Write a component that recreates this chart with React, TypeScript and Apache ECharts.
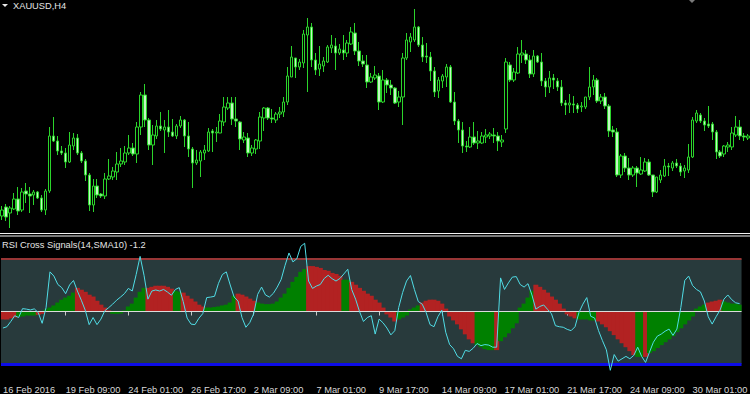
import { useEffect, useRef } from "react";
import * as echarts from "echarts";

const symbolTitle = "XAUUSD,H4";
const indicatorTitle = "RSI Cross Signals(14,SMA10) -1.2";

const tickLabels = [
  "16 Feb 2016", "19 Feb 09:00", "24 Feb 01:00", "26 Feb 17:00", "2 Mar 09:00", "7 Mar 01:00",
  "9 Mar 17:00", "14 Mar 09:00", "17 Mar 01:00", "21 Mar 17:00", "24 Mar 09:00", "30 Mar 01:00",
];
const barsPerTick = 16;

// [open, close, low, high]
const candles: number[][] = [
  [1188, 1191, 1186, 1193], [1192.5, 1187.5, 1185.5, 1194], [1189.5, 1192, 1182, 1193], [1191.5, 1196.5, 1191, 1199.5],
  [1196.5, 1190.5, 1188.5, 1202.5], [1191, 1200, 1190, 1202], [1200.5, 1199, 1194.5, 1204.5], [1199, 1198, 1189.5, 1202.5],
  [1198.5, 1200, 1193.5, 1201], [1200, 1197, 1196.5, 1200.5], [1197, 1191, 1190, 1198.5], [1191, 1200.5, 1188.5, 1201.5],
  [1200.5, 1228, 1199.5, 1232.5], [1228, 1225.5, 1225, 1237.5], [1225.5, 1220.5, 1218.5, 1228], [1220.5, 1219.5, 1218.5, 1223],
  [1219.5, 1215, 1212, 1222], [1215, 1223.5, 1214.5, 1230], [1223, 1227, 1221, 1229.5], [1227, 1219.5, 1218.5, 1229],
  [1219.5, 1215.5, 1214.5, 1220.5], [1215.5, 1208.5, 1205.5, 1216.5], [1208.5, 1193.5, 1190.5, 1209.5], [1193.5, 1203, 1190, 1206.5],
  [1203, 1198.5, 1197, 1206.5], [1199, 1198, 1197, 1199.5], [1198, 1206.5, 1196.5, 1209.5], [1206.5, 1208, 1206, 1216.5],
  [1207.5, 1210.5, 1206, 1212.5], [1210, 1214, 1206, 1220], [1214, 1215.5, 1212.5, 1222], [1215, 1219.5, 1213.5, 1223],
  [1219.5, 1222, 1218.5, 1228.5], [1222, 1219, 1218, 1224.5], [1219, 1232.5, 1214.5, 1235], [1232.5, 1248.5, 1228.5, 1250],
  [1248.5, 1236, 1232.5, 1254], [1236, 1223.5, 1221, 1237], [1223.5, 1228.5, 1213.5, 1233.5], [1228, 1233, 1226.5, 1236],
  [1233, 1231.5, 1230.5, 1240], [1231, 1232.5, 1219.5, 1236], [1232.5, 1230, 1227.5, 1241], [1230, 1228, 1227.5, 1236.5],
  [1228, 1233, 1226.5, 1234], [1233, 1236, 1232, 1238], [1236, 1228, 1222.5, 1236.5], [1228, 1221.5, 1217.5, 1235],
  [1221.5, 1214.5, 1202, 1222.5], [1214.5, 1216, 1213.5, 1221], [1215.5, 1220, 1207.5, 1221], [1219.5, 1221, 1216, 1223.5],
  [1220.5, 1230, 1220, 1232], [1230.5, 1229.5, 1220, 1231.5], [1229.5, 1230, 1225, 1232.5], [1229.5, 1235.5, 1229.5, 1239],
  [1235, 1242.5, 1233, 1247.5], [1242, 1244.5, 1241, 1247.5], [1244.5, 1236.5, 1233.5, 1247.5], [1236.5, 1235.5, 1232.5, 1247.5],
  [1235, 1226.5, 1221, 1235.5], [1226, 1227.5, 1224.5, 1230], [1227, 1219.5, 1217.5, 1229.5], [1219.5, 1222, 1218, 1223.5],
  [1221.5, 1226, 1219, 1226.5], [1225.5, 1237.5, 1221.5, 1240], [1237, 1242, 1230.5, 1242.5], [1242, 1237, 1236, 1242.5],
  [1237, 1236.5, 1234.5, 1241.5], [1236, 1239, 1234.5, 1240], [1239, 1240, 1237, 1242.5], [1240, 1245, 1237.5, 1247.5],
  [1245, 1258, 1243.5, 1262.5], [1257.5, 1267.5, 1257.5, 1273], [1267, 1262.5, 1257, 1267], [1262.5, 1265, 1261, 1266.5],
  [1264.5, 1279, 1262, 1281], [1278.5, 1282.5, 1250, 1287], [1282.5, 1266, 1262.5, 1284.5], [1266, 1261, 1258.5, 1269.5],
  [1261.5, 1264, 1258, 1273], [1263, 1265.5, 1260, 1267.5], [1265, 1272.5, 1264.5, 1273.5], [1272, 1273.5, 1269.5, 1278.5],
  [1273, 1269.5, 1261, 1277], [1269.5, 1271.5, 1268.5, 1274], [1271, 1269.5, 1266, 1278.5], [1269.5, 1274.5, 1267.5, 1276],
  [1274, 1280, 1273.5, 1282.5], [1279.5, 1270.5, 1268.5, 1284.5], [1270.5, 1265.5, 1263, 1275], [1265.5, 1264, 1262.5, 1268.5],
  [1263.5, 1255, 1252, 1268.5], [1255, 1257.5, 1254.5, 1259.5], [1257, 1258.5, 1256, 1263], [1258, 1245, 1241, 1259.5],
  [1245, 1256, 1244.5, 1261], [1256, 1253.5, 1249.5, 1257], [1253.5, 1252, 1248.5, 1256], [1252, 1244.5, 1244, 1252.5],
  [1245, 1247.5, 1242.5, 1250.5], [1247.5, 1267, 1233.5, 1269.5], [1267, 1276, 1266, 1279.5], [1275, 1277.5, 1270, 1279.5],
  [1276, 1282.5, 1275, 1291.5], [1282.5, 1273.5, 1272.5, 1283], [1273.5, 1267.5, 1265, 1277.5], [1268, 1267.5, 1264.5, 1274.5],
  [1267.5, 1260.5, 1255.5, 1270], [1260.5, 1250, 1247.5, 1262.5], [1250.5, 1256, 1247, 1257.5], [1255.5, 1258, 1252, 1259],
  [1257.5, 1262.5, 1252.5, 1264], [1262.5, 1245, 1244.5, 1263.5], [1245, 1235.5, 1233.5, 1250], [1235.5, 1231, 1224.5, 1236.5],
  [1231, 1223, 1219.5, 1235], [1223, 1222.5, 1220, 1225.5], [1222.5, 1227.5, 1222, 1232.5], [1227.5, 1224.5, 1223.5, 1235],
  [1224.5, 1225.5, 1221.5, 1230.5], [1224.5, 1228, 1224, 1230], [1227.5, 1228.5, 1224.5, 1231.5], [1228, 1229, 1226.5, 1230],
  [1228.5, 1228, 1224.5, 1232], [1228, 1225.5, 1220.5, 1230], [1225, 1226, 1222.5, 1228.5], [1231.5, 1265, 1229.5, 1267],
  [1263.5, 1256, 1255, 1265], [1256, 1260, 1255, 1262], [1259.5, 1269, 1259, 1272.5], [1268.5, 1269.5, 1264.5, 1276],
  [1269, 1266, 1264, 1271], [1266, 1259, 1257, 1268.5], [1259, 1268, 1257.5, 1271], [1268, 1265, 1264.5, 1268.5],
  [1265, 1255.5, 1253, 1269.5], [1255.5, 1252.5, 1247.5, 1257], [1252.5, 1257, 1249.5, 1260.5], [1257, 1256, 1251.5, 1259],
  [1255.5, 1252.5, 1250.5, 1257], [1252.5, 1244.5, 1243, 1256], [1244.5, 1243.5, 1238.5, 1246], [1243.5, 1244.5, 1239.5, 1249],
  [1244, 1243.5, 1239.5, 1248], [1243.5, 1241.5, 1239.5, 1244.5], [1242.5, 1243, 1240, 1245], [1242.5, 1247.5, 1241.5, 1247.5],
  [1247.5, 1252.5, 1246, 1262.5], [1252.5, 1256, 1248.5, 1258.5], [1256, 1245.5, 1244.5, 1257], [1245.5, 1247.5, 1244, 1249],
  [1247.5, 1243, 1241.5, 1249.5], [1243, 1230.5, 1227.5, 1244], [1231, 1230, 1227.5, 1233], [1230, 1208.5, 1207.5, 1232],
  [1208.5, 1218, 1207, 1219], [1218, 1212, 1210, 1219.5], [1212, 1208.5, 1206, 1217], [1208.5, 1212, 1207.5, 1213],
  [1212, 1209.5, 1202.5, 1213], [1209, 1211, 1208.5, 1217.5], [1210.5, 1215, 1210, 1217], [1215, 1208.5, 1208, 1216.5],
  [1208.5, 1200, 1197.5, 1208.5], [1200, 1207.5, 1199.5, 1207.5], [1206, 1208.5, 1204.5, 1211], [1208, 1213, 1207.5, 1216.5],
  [1213, 1212.5, 1208, 1214.5], [1212, 1214.5, 1210.5, 1215.5], [1214.5, 1213, 1212, 1216.5], [1213, 1210, 1208, 1214.5],
  [1210.5, 1212, 1207, 1213.5], [1211, 1217.5, 1209.5, 1224], [1217.5, 1236, 1217, 1237.5], [1235.5, 1239.5, 1234.5, 1241],
  [1238.5, 1235.5, 1234.5, 1239.5], [1235.5, 1233.5, 1230.5, 1237], [1234, 1233, 1232, 1243], [1234, 1230, 1226, 1235],
  [1230, 1220, 1216.5, 1231], [1220, 1218, 1217, 1221], [1219, 1223, 1217.5, 1223.5], [1222.5, 1223.5, 1220, 1225],
  [1222.5, 1229.5, 1221, 1232.5], [1228.5, 1232.5, 1227.5, 1238], [1232.5, 1228, 1226, 1236], [1228, 1227.5, 1225.5, 1229.5],
  [1227, 1228, 1226, 1229],
];

const rsi = [
  43.7, 44.2, 46.2, 48.4, 47.7, 51.1, 50.9, 50.6, 51.0, 49.6,
  45.5, 51.5, 65.1, 63.5, 60.3, 59.1, 56.8, 60.1, 61.8, 57.8,
  54.3, 50.5, 45.0, 47.7, 45.0, 47.1, 50.3, 51.5, 52.8, 54.3,
  55.5, 56.8, 58.8, 57.8, 64.1, 71.0, 63.8, 54.7, 57.8, 58.2,
  57.8, 58.4, 57.4, 56.2, 58.4, 59.1, 53.8, 47.5, 45.2, 45.0,
  47.4, 49.2, 55.3, 55.5, 55.8, 60.7, 64.1, 65.1, 60.1, 55.5,
  54.0, 47.7, 44.0, 45.8, 49.2, 56.5, 59.3, 56.3, 55.5, 56.9,
  59.3, 62.2, 67.6, 72.3, 68.9, 70.1, 74.8, 76.0, 61.6, 58.8,
  59.7, 60.3, 62.6, 63.8, 62.5, 61.6, 62.6, 64.3, 66.1, 58.4,
  54.7, 50.0, 46.2, 47.7, 48.4, 41.4, 47.1, 45.7, 43.7, 41.1,
  42.7, 51.5, 57.2, 61.6, 63.7, 58.4, 53.8, 52.8, 49.6, 45.0,
  44.2, 48.0, 50.5, 42.1, 37.4, 35.8, 32.9, 32.0, 35.2, 34.8,
  36.0, 37.8, 37.0, 37.4, 37.2, 36.4, 36.4, 62.8, 58.4, 60.9,
  63.1, 63.3, 60.3, 59.3, 60.6, 56.3, 50.9, 51.9, 52.5, 50.8,
  49.1, 44.6, 44.2, 44.0, 43.2, 42.7, 44.2, 49.6, 52.8, 55.3,
  48.2, 47.5, 42.7, 38.9, 35.4, 27.6, 33.6, 31.1, 32.0, 32.9,
  32.0, 33.3, 36.4, 32.9, 30.6, 34.5, 38.3, 40.6, 41.4, 42.5,
  43.3, 40.9, 43.3, 51.5, 61.8, 63.5, 59.9, 58.4, 57.5, 54.0,
  48.0, 45.2, 48.0, 50.5, 54.7, 56.3, 54.5, 53.3, 53.0,
];

const rsiSma = [
  47.0, 47.0, 47.4, 47.7, 48.1, 48.1, 48.5, 48.5, 48.5, 48.7,
  49.1, 50.8, 51.5, 52.3, 53.4, 54.5, 55.3, 56.0, 57.2, 59.0,
  58.3, 57.5, 56.4, 55.7, 54.1, 52.6, 51.5, 50.4, 49.1, 49.1,
  49.2, 50.4, 51.9, 53.0, 55.3, 57.5, 59.0, 59.0, 59.4, 59.8,
  59.8, 59.8, 59.4, 58.7, 57.9, 57.5, 57.2, 56.0, 54.9, 53.8,
  52.6, 51.9, 51.5, 51.5, 51.7, 51.9, 52.3, 52.6, 53.4, 56.0,
  56.8, 56.4, 55.7, 54.9, 54.1, 53.4, 53.0, 52.8, 52.8, 53.0,
  53.8, 55.3, 56.8, 59.0, 61.3, 63.2, 65.1, 66.2, 67.3, 67.3,
  67.0, 66.6, 65.8, 65.5, 64.7, 64.3, 63.6, 62.1, 62.1, 61.3,
  60.2, 59.0, 57.9, 56.8, 56.0, 54.5, 53.4, 51.5, 48.9, 47.7,
  46.2, 47.0, 47.7, 48.5, 50.8, 51.5, 52.3, 53.4, 54.1, 54.5,
  54.5, 54.1, 53.0, 51.1, 48.1, 46.6, 45.1, 43.2, 41.3, 39.4,
  37.9, 37.2, 36.4, 35.7, 35.3, 35.3, 35.3, 38.7, 40.2, 41.7,
  43.6, 45.5, 51.5, 53.0, 55.3, 57.9, 60.2, 59.4, 58.3, 57.2,
  55.7, 54.5, 53.0, 51.1, 48.9, 48.1, 47.4, 47.0, 47.0, 47.0,
  46.6, 46.6, 46.2, 45.1, 44.0, 42.5, 41.0, 39.4, 37.9, 36.4,
  34.9, 33.4, 32.7, 32.7, 32.7, 34.2, 34.9, 36.1, 37.2, 38.3,
  39.4, 40.6, 42.1, 43.6, 45.1, 46.6, 48.1, 51.1, 51.9, 52.6,
  53.4, 53.8, 54.1, 54.5, 53.8, 53.4, 53.0, 53.0, 52.6,
];

// histogram colour runs: G = RSI above its SMA, R = below
const signalRuns: [string, number][] = [
  ["R", 4], ["G", 5], ["R", 2], ["G", 8], ["R", 9], ["G", 9], ["R", 7], ["G", 2], ["R", 6], ["G", 8],
  ["R", 5], ["G", 13], ["R", 9], ["G", 2], ["R", 12], ["G", 6], ["R", 14], ["G", 5], ["R", 1], ["G", 9],
  ["R", 11], ["G", 5], ["R", 10], ["G", 2], ["R", 1], ["G", 15], ["R", 4], ["G", 5],
];

const levelHigh = 70;
const levelMid = 50;
const levelLow = 30;

const categories = candles.map((_, i) => String(i));
const signals: string[] = signalRuns.flatMap(([c, n]) => Array(n).fill(c));

export default function App() {
  const ref = useRef<HTMLDivElement>(null);
  useEffect(() => {
    document.body.style.margin = "0";
    document.body.style.background = "#000";
    const chart = echarts.init(ref.current!, null, { renderer: "svg" });
    const font = "'Liberation Sans', Arial, sans-serif";
    const tickShow = (i: number) => i % barsPerTick === 0;
    chart.setOption({
      animation: false,
      backgroundColor: "#000",
      grid: [
        { left: -3.5, top: 0, width: categories.length * 4, height: 232 },
        {
          left: -4, top: 259, width: categories.length * 4, height: 106,
          show: true, backgroundColor: "#283a3c", borderWidth: 0,
        },
      ],
      xAxis: [
        { type: "category", gridIndex: 0, data: categories, show: false },
        {
          type: "category", gridIndex: 1, data: categories, offset: 16,
          axisLine: { show: false },
          axisTick: { show: true, alignWithLabel: true, interval: tickShow, length: 4, lineStyle: { color: "#c8c8c8" } },
          axisLabel: {
            interval: tickShow,
            formatter: (_v: string, i: number) => tickLabels[i / barsPerTick] ?? "",
            align: "left", color: "#d8d8d8", fontSize: 9.3, fontFamily: font, margin: 5,
          },
          splitLine: { show: false },
        },
      ],
      yAxis: [
        { type: "value", gridIndex: 0, min: 1180, max: 1296, show: false },
        { type: "value", gridIndex: 1, min: levelLow - levelMid, max: levelHigh - levelMid, show: false },
      ],
      graphic: [
        { type: "polygon", shape: { points: [[2, 4], [8, 4], [5, 7]] }, style: { fill: "#e8e8e8" } },
        { type: "text", x: 13, y: 5.5, style: { text: symbolTitle, fill: "#e4e4e4", font: `9.3px ${font}`, verticalAlign: "middle" } },
        { type: "polygon", shape: { points: [[689, 0], [695, 0], [692, 3]] }, style: { fill: "#7a7a7a" } },
        { type: "rect", shape: { x: 0, y: 233, width: 750, height: 1 }, style: { fill: "#f2f2f2" } },
        { type: "rect", shape: { x: 0, y: 235.5, width: 750, height: 1 }, style: { fill: "#f2f2f2" } },
        { type: "text", x: 2, y: 244.5, style: { text: indicatorTitle, fill: "#e4e4e4", font: `9.3px ${font}`, verticalAlign: "middle" } },
      ],
      series: [
        {
          type: "candlestick", xAxisIndex: 0, yAxisIndex: 0, data: candles, barWidth: 3,
          itemStyle: { color: "#000", color0: "#c4f7c4", borderColor: "#2bd42b", borderColor0: "#2bd42b", borderWidth: 1 },
        },
        {
          type: "bar", xAxisIndex: 1, yAxisIndex: 1, barWidth: 5, z: 2,
          data: rsiSma.map((v, i) => ({
            value: +(v - levelMid).toFixed(2),
            itemStyle: { color: signals[i] === "G" ? "#008000" : "#b22222" },
          })),
          markLine: {
            silent: true, symbol: "none", label: { show: false }, z: 3,
            data: [
              { yAxis: levelHigh - levelMid, lineStyle: { color: "#983636", width: 2, type: "solid" } },
              { yAxis: 0, lineStyle: { color: "#dcdcdc", width: 1, type: "solid" } },
              { yAxis: levelLow - levelMid, lineStyle: { color: "#0c0ce8", width: 3, type: "solid" } },
            ],
          },
        },
        {
          type: "line", xAxisIndex: 1, yAxisIndex: 1, z: 5, clip: false, symbol: "none",
          data: rsi.map((v) => +(v - levelMid).toFixed(2)),
          lineStyle: { color: "#50dde6", width: 1 },
        },
      ],
    });
    return () => chart.dispose();
  }, []);
  return <div ref={ref} style={{ width: 750, height: 394 }} />;
}
